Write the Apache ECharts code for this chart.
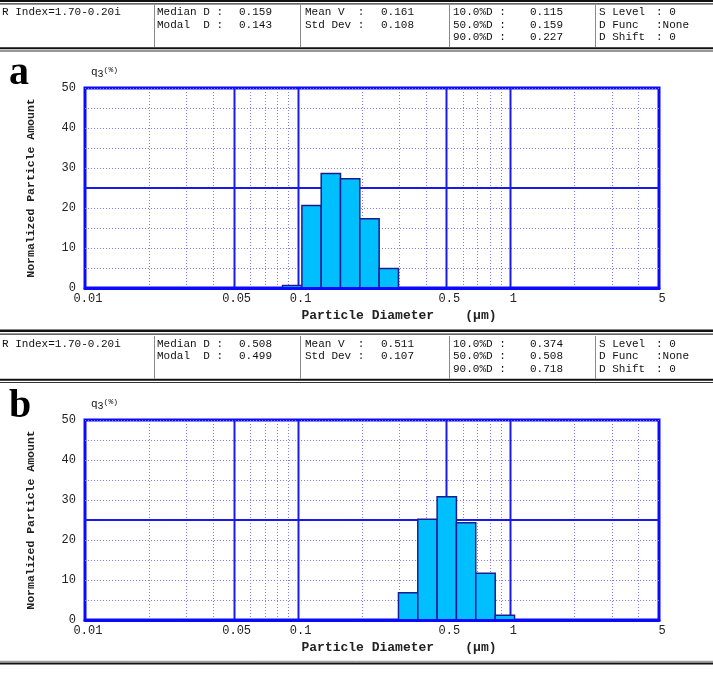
<!DOCTYPE html>
<html><head><meta charset="utf-8">
<script src="https://cdn.jsdelivr.net/npm/echarts@6/dist/echarts.min.js"></script>
<style>html,body{margin:0;padding:0;background:#fff}#c{width:713px;height:684px}</style>
</head><body><div id="c"></div>
<script>
// ---- data ----
const binEdgesA = [0.0849, 0.1047, 0.129, 0.159, 0.196, 0.2416, 0.2978];
const amountA   = [0.6, 20.6, 28.6, 27.3, 17.3, 4.9];
const binEdgesB = [0.2978, 0.3671, 0.4525, 0.5578, 0.6876, 0.849, 1.0466];
const amountB   = [6.8, 25.2, 30.8, 24.3, 11.7, 1.2];

const xTickValues = [0.01, 0.05, 0.1, 0.5, 1, 5];
const xTickLabels = ['0.01', '0.05', '0.1', '0.5', '1', '5'];
const xMinorGrid  = [0.02, 0.03, 0.04, 0.06, 0.07, 0.08, 0.09, 0.2, 0.3, 0.4, 0.6, 0.7, 0.8, 0.9, 2, 3, 4];
const xMajorGrid  = [0.05, 0.1, 0.5, 1];
const yMajorGrid  = [25];

const headerLabels = ['Median D :', 'Modal  D :', 'Mean V  :', 'Std Dev :', '10.0%D :', '50.0%D :', '90.0%D :'];
const headerValuesA = ['0.159', '0.143', '0.161', '0.108', '0.115', '0.159', '0.227'];
const headerValuesB = ['0.508', '0.499', '0.511', '0.107', '0.374', '0.508', '0.718'];
const rIndexText = 'R Index=1.70-0.20i';
const settingLabels = ['S Level', 'D Func', 'D Shift'];
const settingValues = [': 0', ':None', ': 0'];
const panelLetters = ['a', 'b'];

// ---- helpers ----
const MONO = 'Liberation Mono';
const BLUE = '#0a0aff';
const GRIDBLUE = '#1a1ae8';
const DOT = '#7c7cff';

function bars(edges, vals) {
  return vals.map((v, i) => [edges[i], edges[i + 1], v]);
}

function header(top, vals) {
  const els = [];
  const line = (x1, y1, x2, y2, w, c) => els.push({type: 'line', silent: true,
    shape: {x1, y1, x2, y2}, style: {stroke: c, lineWidth: w}});
  const txt = (x, y, s) => els.push({type: 'text', silent: true, x, y,
    style: {text: s, font: '11px "' + MONO + '"', fill: '#111', verticalAlign: 'middle'}});
  const rows = [top + 12.5, top + 25, top + 37.5];
  [154, 300, 449, 595].forEach(x => line(x + 0.5, top + 4.5, x + 0.5, top + 47, 1, '#8a8a8a'));
  line(0, top + 48.3, 713, top + 48.3, 2, '#111');
  line(0, top + 51, 713, top + 51, 1.2, '#333');
  txt(2, rows[0], rIndexText);
  txt(157, rows[0], headerLabels[0]); txt(239, rows[0], vals[0]);
  txt(157, rows[1], headerLabels[1]); txt(239, rows[1], vals[1]);
  txt(305, rows[0], headerLabels[2]); txt(381, rows[0], vals[2]);
  txt(305, rows[1], headerLabels[3]); txt(381, rows[1], vals[3]);
  for (let i = 0; i < 3; i++) {
    txt(453, rows[i], headerLabels[4 + i]); txt(530, rows[i], vals[4 + i]);
    txt(599, rows[i], settingLabels[i]); txt(656, rows[i], settingValues[i]);
  }
  return els;
}

const graphics = [];
// outer double rules
graphics.push({type: 'line', silent: true, shape: {x1: 0, y1: 1, x2: 713, y2: 1}, style: {stroke: '#111', lineWidth: 2}});
graphics.push({type: 'line', silent: true, shape: {x1: 0, y1: 3.8, x2: 713, y2: 3.8}, style: {stroke: '#333', lineWidth: 1.2}});
graphics.push({type: 'line', silent: true, shape: {x1: 0, y1: 330.8, x2: 713, y2: 330.8}, style: {stroke: '#111', lineWidth: 2.5}});
graphics.push({type: 'line', silent: true, shape: {x1: 0, y1: 334.2, x2: 713, y2: 334.2}, style: {stroke: '#333', lineWidth: 1.2}});
graphics.push({type: 'line', silent: true, shape: {x1: 0, y1: 661.3, x2: 713, y2: 661.3}, style: {stroke: '#888', lineWidth: 1}});
graphics.push({type: 'line', silent: true, shape: {x1: 0, y1: 663.5, x2: 713, y2: 663.5}, style: {stroke: '#111', lineWidth: 2.2}});
graphics.push(...header(0, headerValuesA));
graphics.push(...header(331.5, headerValuesB));
// panel letters and q3(%) labels
[[73.5, 72], [406.5, 404]].forEach(([ly, qy], i) => {
  graphics.push({type: 'text', silent: true, x: 9, y: ly,
    style: {text: panelLetters[i], font: 'bold 40px "Liberation Serif"', fill: '#000', verticalAlign: 'middle'}});
  graphics.push({type: 'text', silent: true, x: 91, y: qy,
    style: {text: '{q|q}{s|3}{p|(%)}', verticalAlign: 'middle',
      rich: {
        q: {fontFamily: MONO, fontSize: 11, fill: '#111', verticalAlign: 'middle', lineHeight: 14},
        s: {fontFamily: MONO, fontSize: 10, fill: '#111', padding: [5, 0, 0, 0], lineHeight: 14},
        p: {fontFamily: MONO, fontSize: 8, fill: '#111', padding: [0, 0, 5, 0], lineHeight: 14}
      }}});
});

function fmtX(v) {
  let best = 0, bd = Infinity;
  xTickValues.forEach((t, i) => { const d = Math.abs(Math.log10(v) - Math.log10(t)); if (d < bd) { bd = d; best = i; } });
  return xTickLabels[best];
}

function makeX(gi) {
  return {
    type: 'log', logBase: 10, gridIndex: gi, min: 0.01, max: 5, z: 10,
    name: 'Particle Diameter    (μm)', nameLocation: 'middle', nameGap: 21,
    nameTextStyle: {fontFamily: MONO, fontWeight: 'bold', fontSize: 13, color: '#222', padding: [0, 0, 0, 54]},
    axisLine: {show: true, onZero: false, lineStyle: {color: BLUE, width: 3}},
    axisTick: {show: false},
    splitLine: {show: false},
    minorTick: {show: false}, minorSplitLine: {show: false},
    axisLabel: {customValues: xTickValues, formatter: fmtX, margin: 5, padding: [0, 0, 0, 6],
      fontFamily: MONO, fontSize: 12, color: '#222'}
  };
}
function makeY(gi) {
  return {
    type: 'value', gridIndex: gi, min: 0, max: 50, interval: 5,
    name: 'Normalized Particle Amount', nameLocation: 'middle', nameRotate: 90, nameGap: 48,
    nameTextStyle: {fontFamily: MONO, fontWeight: 'bold', fontSize: 11.5, color: '#222'},
    axisLine: {show: false}, axisTick: {show: false},
    splitLine: {show: true, lineStyle: {color: DOT, type: [1, 2], width: 1}},
    axisLabel: {formatter: v => (v % 10 === 0 ? String(v) : ''), margin: 9,
      fontFamily: MONO, fontSize: 12, color: '#222'}
  };
}

function vLineSeries(gi, vals, dashed) {
  return {
    type: 'custom', xAxisIndex: gi, yAxisIndex: gi, z: 1, silent: true,
    data: vals.map(v => [v]), encode: {x: 0},
    renderItem: (params, api) => {
      const v = api.value(0);
      const p0 = api.coord([v, 0]), p1 = api.coord([v, 50]);
      return {type: 'line', shape: {x1: Math.round(p0[0]) + 0.5, y1: p0[1], x2: Math.round(p1[0]) + 0.5, y2: p1[1]},
        style: dashed ? {stroke: DOT, lineWidth: 1, lineDash: [1, 2]} : {stroke: GRIDBLUE, lineWidth: 2}};
    }
  };
}
function hLineSeries(gi, vals) {
  return {
    type: 'custom', xAxisIndex: gi, yAxisIndex: gi, z: 1, silent: true,
    data: vals.map(v => [v]), encode: {y: 0},
    renderItem: (params, api) => {
      const v = api.value(0);
      const p0 = api.coord([0.01, v]), p1 = api.coord([5, v]);
      return {type: 'line', shape: {x1: p0[0], y1: p0[1], x2: p1[0], y2: p1[1]},
        style: {stroke: GRIDBLUE, lineWidth: 2}};
    }
  };
}
function barSeries(gi, edges, vals) {
  return {
    type: 'custom', xAxisIndex: gi, yAxisIndex: gi, z: 3,
    data: bars(edges, vals), encode: {x: [0, 1], y: 2},
    renderItem: (params, api) => {
      const p0 = api.coord([api.value(0), api.value(2)]);
      const p1 = api.coord([api.value(1), 0]);
      return {type: 'rect', shape: {x: p0[0], y: p0[1], width: p1[0] - p0[0], height: p1[1] - p0[1]},
        style: {fill: '#00bfff', stroke: '#1c1c90', lineWidth: 1.5}};
    }
  };
}

const chart = echarts.init(document.getElementById('c'), null, {renderer: 'canvas'});
chart.setOption({
  animation: false,
  backgroundColor: '#fff',
  grid: [
    {left: 85, top: 88, width: 574, height: 200, show: true, borderColor: BLUE, borderWidth: 3, backgroundColor: 'transparent'},
    {left: 85, top: 420, width: 574, height: 200, show: true, borderColor: BLUE, borderWidth: 3, backgroundColor: 'transparent'}
  ],
  xAxis: [makeX(0), makeX(1)],
  yAxis: [makeY(0), makeY(1)],
  series: [
    vLineSeries(0, xMinorGrid, true), vLineSeries(0, xMajorGrid, false), hLineSeries(0, yMajorGrid),
    barSeries(0, binEdgesA, amountA),
    vLineSeries(1, xMinorGrid, true), vLineSeries(1, xMajorGrid, false), hLineSeries(1, yMajorGrid),
    barSeries(1, binEdgesB, amountB)
  ],
  graphic: graphics
});
</script>
</body></html>
